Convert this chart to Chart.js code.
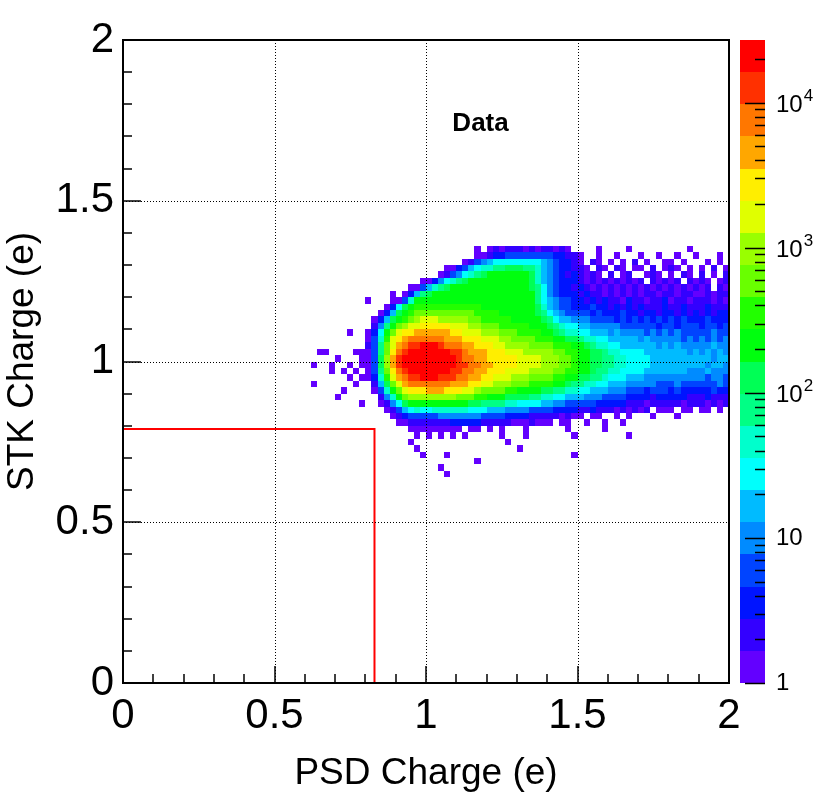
<!DOCTYPE html>
<html>
<head>
<meta charset="utf-8">
<script src="https://cdn.jsdelivr.net/npm/chart.js@4.4.1/dist/chart.umd.min.js"></script>
<style>
html,body{margin:0;padding:0;background:#ffffff;}
#wrap{width:830px;height:806px;}
</style>
</head>
<body>
<div id="wrap"><canvas id="c" width="830" height="806"></canvas></div>
<script>
// ---------------- data ----------------
const xTicks = [0, 0.5, 1, 1.5, 2];
const yTicks = [0, 0.5, 1, 1.5, 2];
const zTicks = [1, 10, 100, 1000, 10000];
const zTickBase = ['1', '10', '10', '10', '10'];
const zTickExp = ['', '', '2', '3', '4'];
const zMax = 27000;
const xTitle = 'PSD Charge (e)';
const yTitle = 'STK Charge (e)';
const textLabel = 'Data';
// red selection cut
const cutX = [0, 0.83, 0.83];
const cutY = [0.79, 0.79, 0];
// histogram binning (cells of 0.02 x 0.02), x from 0.60, rows from y = 1.36 downwards
const binX0 = 0.60;
const binW = 0.02;
const binYTop = 1.36;
const binH = 0.02;
// colour level of every cell (0..19 = '0'..'9','a'..'j'; '.' = empty), one string per row
const levelCodes = '0123456789abcdefghij';
const rows = [
"..... ..... ..... ..... ..... ...0. 01011 10101 1010. ...0. ...0. ..... ...0. .....",
"..... ..... ..... ..... ..... ...00 12233 33333 32211 0..0. .0... 0..0. .0..0 ...0.",
"..... ..... ..... ..... ..... .0134 56666 66665 43221 0.10. 0.0.1 .0..0 0.0.. .0.0.",
"..... ..... ..... ..... ...00 23567 78899 98875 43221 10.10 .10.0 0.1.0 10.0. 0.1.0",
"..... ..... ..... ..... ..013 46789 aaaaa aa975 43212 1010. 1.01. .010. 0.10. 1.0.1",
"..... ..... ..... ....0 02467 89aaa aaaaa aa975 43222 10101 01010 1.101 01.10 10.01",
"..... ..... ..... ..003 5789a aaaaa aaaaa aa986 43221 21010 10101 01010 10101 01.10",
"..... ..... ....0 .0258 9aaaa aaaaa aaaaa aaa86 43222 12110 10101 01101 10110 01011",
"..... ..... 0...0 037aa aaaaa aaaaa aaaaa aaa86 54332 21212 11021 10112 01101 11010",
"..... ..... ...02 69abb bbbbb bbbba aaaaa aaa97 54332 22322 12121 21112 11211 12111",
"..... ..... ..025 9abcc ccccc cccbb bbaaa aaa98 65433 33232 22322 12212 21212 12122",
"..... ..... .0259 abcde eeddd ddccb bbbba aaaa9 86554 44333 32323 23232 32322 23222",
"..... ..... .148a cdeef ffffe eeddc ccbbb bbaaa 98766 55444 44333 33323 32333 23323",
"..... ..0.. 026ac effgg ggggf feeed ddccc bbbba a9877 66555 45444 43434 34333 33433",
"..... ..... 037be fghhh hhhgg gfffe eeddc cccbb baa99 87766 55555 45444 44343 43434",
"..... ..... 138ce ghiij jjihh hggff feedd ddccc cbbba a9877 66555 55545 45444 44544",
"..00. ...00 038cf hijjj jjjji ihggg fffee edddd dccbb aa998 77666 65555 55545 45454",
"..... 0...0 039dg ijjjj jjjjj ihhgg fffff eeeed ddccb aa998 87766 66555 55555 55455",
".0..0 ..0.0 039dg ijjjj jjjjj iihhg gffff eeeed ddccb aa998 87766 66555 55555 54554",
"....0 .0.0. 038cf hijjj jjjji ihhgg fffee eeddd dccbb aa988 77666 65555 55544 45444",
"..... ..0.0 027be ghiij jjiii hhggf feeed ddccc cbbaa 99887 66655 54444 44444 43443",
".0... ...0. .159c eghhh hhhhg ggffe edddc ccbbb baa98 87766 55544 44433 34333 33343",
"..... .0... .037a cefff gggff feedc cccbb aaaa9 98877 66555 44433 32333 23222 22322",
"..... 0.... ..147 acddd ddddd cccbb aaa99 99887 76655 54443 33322 22122 22211 12111",
"..... ....0 ..014 69aaa aaaaa aa998 88877 66665 54433 33322 22211 10111 11011 10101",
"..... ..... ...01 35676 67777 77666 55544 44333 32222 11211 10101 01.00 0.00. 00.0.",
"..... ..... ....0 12333 33444 44443 33322 22111 11010 0.00. .0.0. ..0.. .0... .....",
"..... ..... ..... 00111 11112 22221 11110 00100 0.00. .0..0 ..0.. ..... ..... .....",
"..... ..... ..... ..000 00000 0.00. 0.0.. .0... ...0. ....0 ..... ..... ..... .....",
"..... ..... ..... ...0. 0.0.0 .0... ..0.. .0... ....0 ..... ...0. ..... ..... .....",
"..... ..... ..... ..0.. ..... ..... ...0. ..... ..... ..... ..... ..... ..... .....",
"..... ..... ..... ...0. ..... ..... ..... 0.... ..... ..... ..... ..... ..... .....",
"..... ..... ..... ....0 ...0. ..... ..... ..... ....0 ..... ..... ..... ..... .....",
"..... ..... ..... ..... ..... ...0. ..... ..... ..... ..... ..... ..... ..... .....",
"..... ..... ..... ..... ..0.. ..... ..... ..... ..... ..... ..... ..... ..... .....",
"..... ..... ..... ..... ...0. ..... ..... ..... ..... ..... ..... ..... ..... ....."
];

// ---------------- style ----------------
const FONT = "'Liberation Sans', Arial, Helvetica, sans-serif";
const palette = ['#6300ff','#3300ff','#0014ff','#0044ff','#008bff','#00bbff','#00fffc','#00ffcc',
                 '#00ff85','#00ff55','#00ff0e','#22ff00','#69ff00','#99ff00','#e0ff00','#ffee00',
                 '#ffa700','#ff7700','#ff3000','#ff0000'];

const rootPlugin = {
  id: 'rootStyle',
  beforeDatasetsDraw(chart) {
    const {ctx, scales: {x, y}} = chart;
    ctx.save();
    rows.forEach((row, r) => {
      const cells = row.replace(/ /g, '');
      for (let c = 0; c < cells.length; c++) {
        const L = levelCodes.indexOf(cells[c]);
        if (L < 0) continue;
        const x0 = binX0 + c * binW;
        const y1 = binYTop - r * binH;
        const l = Math.round(x.getPixelForValue(x0));
        const rr = Math.round(x.getPixelForValue(x0 + binW));
        const t = Math.round(y.getPixelForValue(y1));
        const b = Math.round(y.getPixelForValue(y1 - binH));
        ctx.fillStyle = palette[L];
        ctx.fillRect(l, t, rr - l, b - t);
      }
    });
    ctx.restore();
  },
  afterDatasetsDraw(chart) {
    const {ctx, chartArea: ca, scales: {x, y, y2}} = chart;
    ctx.save();
    // dotted grid
    ctx.strokeStyle = '#000';
    ctx.lineWidth = 1;
    ctx.setLineDash([1, 2]);
    xTicks.forEach(v => {
      if (v <= x.min || v >= x.max) return;
      const px = Math.round(x.getPixelForValue(v)) + 0.5;
      ctx.beginPath(); ctx.moveTo(px, ca.top); ctx.lineTo(px, ca.bottom); ctx.stroke();
    });
    yTicks.forEach(v => {
      if (v <= y.min || v >= y.max) return;
      const py = Math.round(y.getPixelForValue(v)) + 0.5;
      ctx.beginPath(); ctx.moveTo(ca.left, py); ctx.lineTo(ca.right, py); ctx.stroke();
    });
    ctx.setLineDash([]);
    // ticks (inside frame)
    ctx.lineWidth = 1.5;
    for (let i = 0; i <= 20; i++) {
      const v = i / 10;
      const major = i % 5 === 0;
      const px = Math.round(x.getPixelForValue(v));
      ctx.beginPath(); ctx.moveTo(px, ca.bottom); ctx.lineTo(px, ca.bottom - (major ? 17 : 9)); ctx.stroke();
      const py = Math.round(y.getPixelForValue(v));
      ctx.beginPath(); ctx.moveTo(ca.left, py); ctx.lineTo(ca.left + (major ? 18 : 9), py); ctx.stroke();
    }
    // frame
    ctx.lineWidth = 2;
    ctx.strokeRect(ca.left, ca.top, ca.right - ca.left, ca.bottom - ca.top);
    // text label
    ctx.fillStyle = '#000';
    ctx.font = 'bold 26px ' + FONT;
    ctx.textAlign = 'center';
    ctx.textBaseline = 'middle';
    ctx.fillText(textLabel, x.getPixelForValue(1.18), y.getPixelForValue(1.74));
    // colour bar
    const cbL = ca.right + 11, cbR = ca.right + 36;
    const dz = Math.log10(zMax) / palette.length;
    palette.forEach((col, k) => {
      const t = Math.round(y2.getPixelForValue(Math.pow(10, (k + 1) * dz)));
      const b = Math.round(y2.getPixelForValue(Math.pow(10, k * dz)));
      ctx.fillStyle = col;
      ctx.fillRect(cbL, t, cbR - cbL, b - t);
    });
    ctx.strokeStyle = '#000';
    ctx.lineWidth = 1.5;
    for (let d = 0; d <= 4; d++) {
      for (let m = 1; m <= 9; m++) {
        const v = m * Math.pow(10, d);
        if (v > zMax) break;
        const py = Math.round(y2.getPixelForValue(v)) + 0.5;
        ctx.beginPath(); ctx.moveTo(cbR, py); ctx.lineTo(cbR - (m === 1 ? 20 : 10), py); ctx.stroke();
      }
    }
    ctx.fillStyle = '#000';
    ctx.textAlign = 'left';
    ctx.textBaseline = 'middle';
    zTicks.forEach((v, i) => {
      const py = y2.getPixelForValue(v);
      const lx = cbR + 11;
      ctx.font = '24px ' + FONT;
      if (zTickExp[i]) {
        ctx.fillText(zTickBase[i], lx, py + 3);
        const w = ctx.measureText(zTickBase[i]).width;
        ctx.font = '17px ' + FONT;
        ctx.fillText(zTickExp[i], lx + w + 1, py - 6);
      } else {
        ctx.fillText(zTickBase[i], lx, py);
      }
    });
    ctx.restore();
  }
};

new Chart(document.getElementById('c'), {
  type: 'scatter',
  data: {
    datasets: [{
      label: 'cut',
      data: cutX.map((v, i) => ({x: v, y: cutY[i]})),
      showLine: true,
      borderColor: '#ff0000',
      borderWidth: 2,
      pointRadius: 0,
      fill: false,
      tension: 0
    }]
  },
  options: {
    responsive: false,
    animation: false,
    devicePixelRatio: 1,
    layout: {padding: {top: 40, left: 0, right: 0, bottom: 0}},
    plugins: {legend: {display: false}, tooltip: {enabled: false}},
    scales: {
      x: {
        type: 'linear', position: 'bottom', min: 0, max: 2,
        afterBuildTicks: s => { s.ticks = xTicks.map(v => ({value: v})); },
        afterFit: s => { s.height = 123; },
        grid: {display: false, drawTicks: false},
        border: {display: false},
        ticks: {color: '#000', font: {family: FONT, size: 42}, padding: 8, maxRotation: 0, autoSkip: false,
                callback: v => String(v)},
        title: {display: true, text: xTitle, color: '#000', font: {family: FONT, size: 37},
                padding: {top: 0, bottom: 10}}
      },
      y: {
        type: 'linear', position: 'left', min: 0, max: 2,
        afterBuildTicks: s => { s.ticks = yTicks.map(v => ({value: v})); },
        afterFit: s => { s.width = 123; },
        grid: {display: false, drawTicks: false},
        border: {display: false},
        ticks: {color: '#000', font: {family: FONT, size: 42}, padding: 9, autoSkip: false,
                callback: v => String(v)},
        title: {display: true, text: yTitle, color: '#000', font: {family: FONT, size: 37},
                padding: {top: 1, bottom: 0}}
      },
      y2: {
        type: 'logarithmic', position: 'right', min: 1, max: zMax,
        afterFit: s => { s.width = 101; },
        grid: {display: false, drawTicks: false},
        border: {display: false},
        ticks: {display: false}
      }
    }
  },
  plugins: [rootPlugin]
});
</script>
</body>
</html>
